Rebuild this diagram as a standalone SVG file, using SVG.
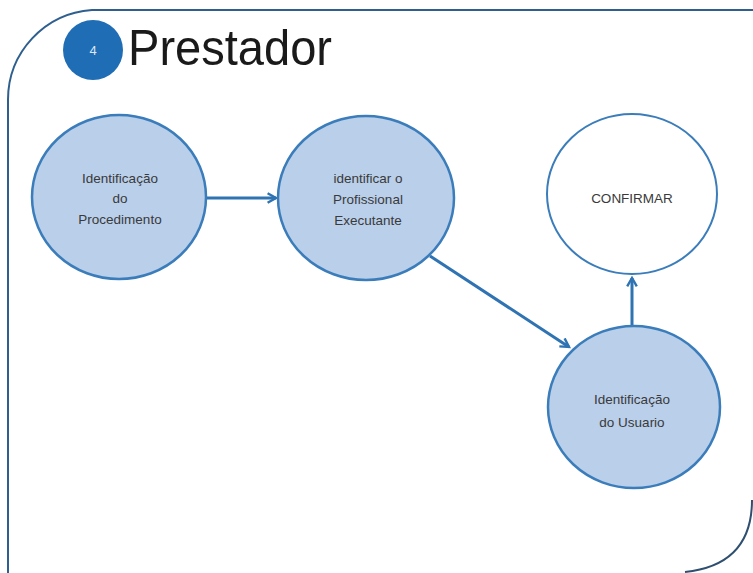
<svg xmlns="http://www.w3.org/2000/svg" width="753" height="573" viewBox="0 0 753 573">
<defs>
<style>
.node{fill:#b9cfea;stroke:#3b7dbb;stroke-width:2.5}
.white{fill:#ffffff;stroke:#3b7dbb;stroke-width:2}
.lbl{font-family:"Liberation Sans",Arial,sans-serif;font-size:13.5px;fill:#3a3a3a;text-anchor:middle}
.conn{stroke:#2f73b3;stroke-width:3;fill:none;marker-end:url(#ah)}
</style>
<marker id="ah" viewBox="0 0 10 10" refX="8" refY="5" markerWidth="4" markerHeight="4" orient="auto" markerUnits="strokeWidth">
<path d="M1,1 L8,5 L1,9" fill="none" stroke="#2f73b3" stroke-width="2"/>
</marker>
</defs>
<rect width="753" height="573" fill="#ffffff"/>
<g id="frame">
<path d="M8,573 L8,100 A90,90 0 0 1 92,10 L753,10" fill="none" stroke="#2f5f8f" stroke-width="2"/>
<path d="M752,500 Q752,565 685,572" fill="none" stroke="#2f4f70" stroke-width="2"/>
</g>
<g id="title">
<circle cx="93" cy="50" r="30" fill="#1f6db5"/>
<text x="93" y="55" font-family="Liberation Sans,Arial,sans-serif" font-size="13" fill="#dde8f4" text-anchor="middle">4</text>
<text x="128" y="65" font-family="Liberation Sans,Arial,sans-serif" font-size="50" fill="#1a1a1a" textLength="204" lengthAdjust="spacingAndGlyphs">Prestador</text>
</g>
<g id="connectors">
<line class="conn" x1="206" y1="198" x2="276" y2="198"/>
<line class="conn" x1="430" y1="256" x2="569" y2="347"/>
<line class="conn" x1="632" y1="325" x2="632" y2="278"/>
</g>
<g id="n1">
<ellipse class="node" cx="119" cy="197" rx="87" ry="82"/>
<text class="lbl" x="120" y="183">Identificação</text>
<text class="lbl" x="120" y="203">do</text>
<text class="lbl" x="120" y="224">Procedimento</text>
</g>
<g id="n2">
<ellipse class="node" cx="366" cy="198" rx="88" ry="82"/>
<text class="lbl" x="368" y="183">identificar o</text>
<text class="lbl" x="368" y="204">Profissional</text>
<text class="lbl" x="368" y="225">Executante</text>
</g>
<g id="n3">
<ellipse class="white" cx="632" cy="194" rx="85" ry="80"/>
<text class="lbl" x="632" y="203">CONFIRMAR</text>
</g>
<g id="n4">
<ellipse class="node" cx="634" cy="407" rx="86" ry="81"/>
<text class="lbl" x="632" y="404">Identificação</text>
<text class="lbl" x="632" y="427">do Usuario</text>
</g>
</svg>
